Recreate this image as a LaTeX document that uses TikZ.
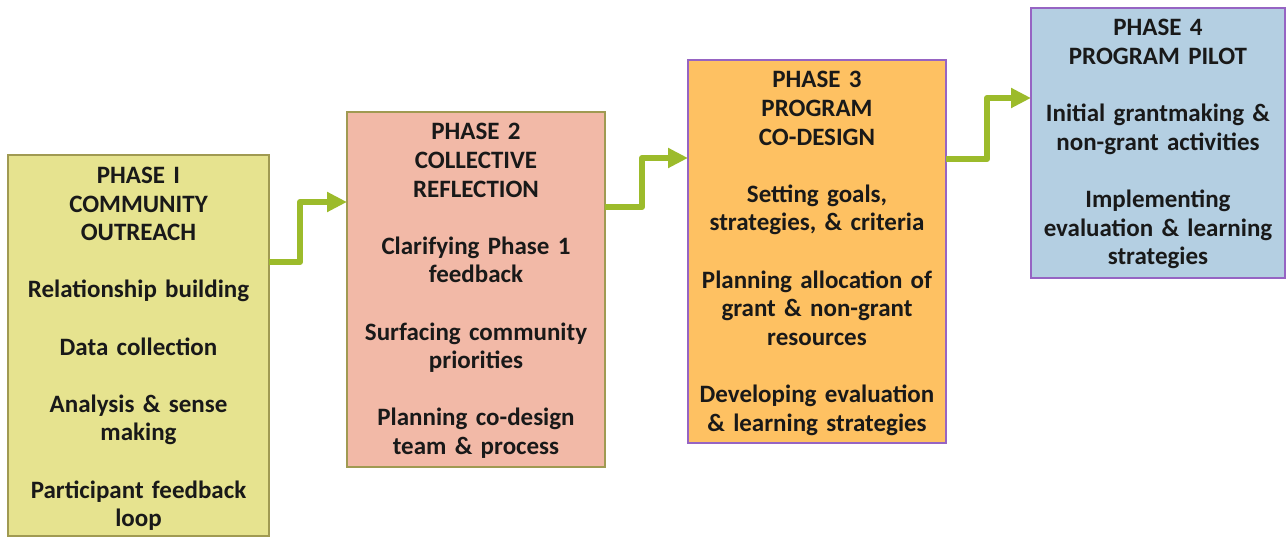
\documentclass[tikz,border=0pt]{standalone}
\usepackage{fontspec}
\setmainfont{Carlito}
\usetikzlibrary{arrows.meta,calc}
\definecolor{fillA}{RGB}{230,227,143}
\definecolor{fillB}{RGB}{242,185,167}
\definecolor{fillC}{RGB}{254,193,98}
\definecolor{fillD}{RGB}{180,207,226}
\definecolor{olive}{RGB}{160,154,82}
\definecolor{purp}{RGB}{150,100,195}
\definecolor{arrowgreen}{RGB}{156,187,43}
\begin{document}
\begin{tikzpicture}[x=1pt,y=1pt,
  phasebox/.style={draw, line width=1.2pt, rectangle, inner sep=0pt, outer sep=0pt, anchor=north west},
  phasetext/.style={anchor=base, align=center, inner sep=0pt, text=black!90, font=\fontsize{25}{28.6}\selectfont\bfseries},
  arr/.style={line width=6pt, draw=arrowgreen, line join=round, -{Triangle[width=19pt,length=20pt]}}]
\useasboundingbox (0,0) rectangle (1286,-537);
\fill[white] (0,0) rectangle (1286,-537);
\node[phasebox, fill=fillA, draw=olive, minimum width=261pt, minimum height=381pt] (b1) at (8,-155) {};
\node[phasebox, fill=fillB, draw=olive, minimum width=258pt, minimum height=355pt] (b2) at (347,-112) {};
\node[phasebox, fill=fillC, draw=purp, minimum width=258pt, minimum height=383pt] (b3) at (688,-60) {};
\node[phasebox, fill=fillD, draw=purp, minimum width=254pt, minimum height=270pt] (b4) at (1031,-8) {};
\node[phasetext, text width=258pt] (t1) at ($(b1.north)+(0,-28.5)$) {PHASE I\\COMMUNITY\\OUTREACH\\[28.6pt]Relationship building\\[28.6pt]Data collection\\[28.6pt]Analysis \& sense\\making\\[28.6pt]Participant feedback\\loop};
\node[phasetext, text width=256pt] (t2) at ($(b2.north)+(0,-28)$) {PHASE 2\\COLLECTIVE\\REFLECTION\\[28.6pt]Clarifying Phase 1\\feedback\\[28.6pt]Surfacing community\\priorities\\[28.6pt]Planning co-design\\team \& process};
\node[phasetext, text width=256pt] (t3) at ($(b3.north)+(0,-28)$) {PHASE 3\\PROGRAM\\CO-DESIGN\\[28.6pt]Setting goals,\\strategies, \& criteria\\[28.6pt]Planning allocation of\\grant \& non-grant\\resources\\[28.6pt]Developing evaluation\\\& learning strategies};
\node[phasetext, text width=252pt] (t4) at ($(b4.north)+(0,-28)$) {PHASE 4\\PROGRAM PILOT\\[28.6pt]Initial grantmaking \&\\non-grant activities\\[28.6pt]Implementing\\evaluation \& learning\\strategies};
\draw[arr] ([yshift=-107pt]b1.north east) -- ++(31,0) |- ([yshift=-90pt]b2.north west);
\draw[arr] ([yshift=-95pt]b2.north east) -- ++(37,0) |- ([yshift=-98pt]b3.north west);
\draw[arr] ([yshift=-99pt]b3.north east) -- ++(41,0) |- ([yshift=-90pt]b4.north west);
\end{tikzpicture}
\end{document}
